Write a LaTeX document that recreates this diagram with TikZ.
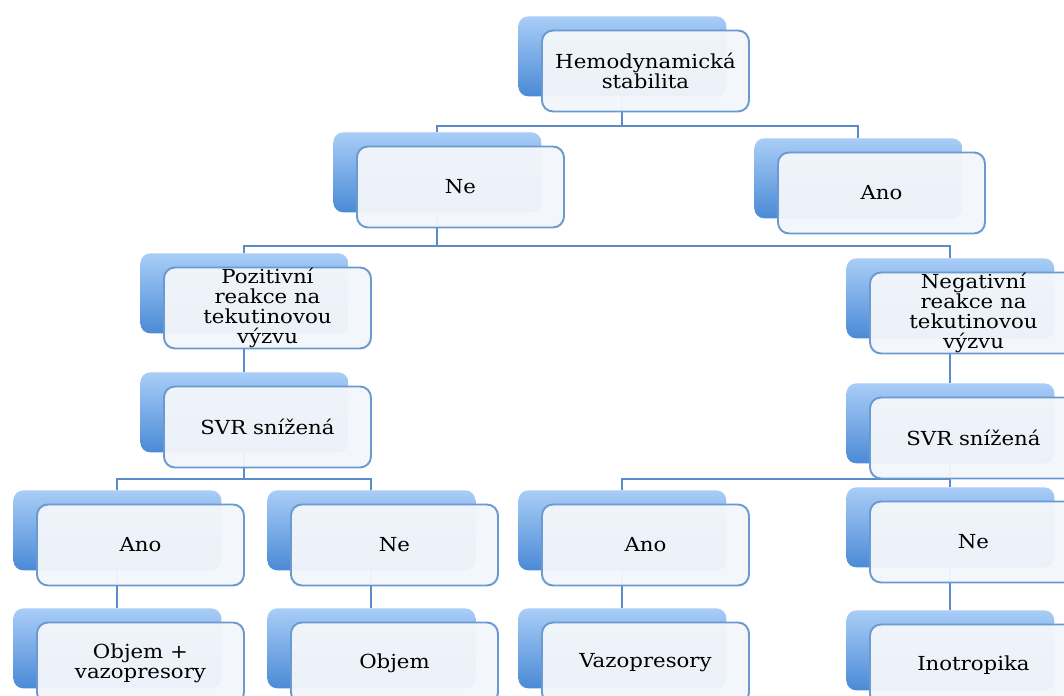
\documentclass[tikz,border=0pt]{standalone}
\usepackage{fontspec}
\setmainfont{DejaVu Serif}[FakeStretch=1.1]
\usepackage{tikz}
\usetikzlibrary{positioning}
\definecolor{modra}{HTML}{4A8AD6}
\definecolor{svetla}{HTML}{A9CDF7}
\definecolor{okraj}{HTML}{6B9AD1}
\definecolor{vypln}{HTML}{F3F6FB}
\definecolor{cara}{HTML}{5B8BC8}
\pgfdeclarelayer{pozadi}
\pgfsetlayers{pozadi,main}

\begin{document}
\begin{tikzpicture}[
  zadni/.style={rounded corners=0.2cm, top color=svetla, bottom color=modra, minimum width=4.16cm, minimum height=1.6cm, inner sep=0pt, anchor=north west},
  predni/.style={rounded corners=0.22cm, draw=okraj, line width=1.1pt, fill=vypln, fill opacity=0.96, text opacity=1, minimum width=4.14cm, minimum height=1.62cm, inner sep=0pt, align=center, anchor=north west, font=\fontsize{11}{11.4}\selectfont, text=black},
  spoj/.style={draw=cara, line width=1.1pt}]
  \useasboundingbox (0,0) rectangle (21.28,-13.9);

  % Bloky (zadni modry + predni bily)
  \foreach \jm/\x/\y/\popis in {
      hemo/10.36/-0.32/{Hemodynamická\\stabilita},
      ne/6.66/-2.64/{Ne},
      ano/15.08/-2.76/{Ano},
      poz/2.80/-5.06/{Pozitivní\\reakce na\\tekutinovou\\výzvu},
      neg/16.92/-5.16/{Negativní\\reakce na\\tekutinovou\\výzvu},
      svrl/2.80/-7.44/{SVR snížená},
      svrr/16.92/-7.66/{SVR snížená},
      anol/0.26/-9.80/{Ano},
      nel/5.34/-9.80/{Ne},
      anor/10.36/-9.80/{Ano},
      ner/16.92/-9.74/{Ne},
      objv/0.26/-12.16/{Objem +\\vazopresory},
      obj/5.34/-12.16/{Objem},
      vaz/10.36/-12.16/{Vazopresory},
      ino/16.92/-12.20/{Inotropika}} {
    \node[zadni] (\jm-z) at (\x,\y) {};
    \node[predni] (\jm) at ([shift={(0.46,-0.27)}]\jm-z.north west) {\popis};
  }

  % Spojnice
  \begin{pgfonlayer}{pozadi}
    \draw[spoj] (hemo-z.south) -- ++(0,-0.58) -| (ne-z.north);
    \draw[spoj] (hemo-z.south) -- ++(0,-0.58) -| (ano-z.north);
    \draw[spoj] (ne-z.south) -- ++(0,-0.66) -| (poz-z.north);
    \draw[spoj] (ne-z.south) -- ++(0,-0.66) -| (neg-z.north);
    \draw[spoj] (svrl-z.south) -- ++(0,-0.52) -| (anol-z.north);
    \draw[spoj] (svrl-z.south) -- ++(0,-0.52) -| (nel-z.north);
    \draw[spoj] (svrr-z.south) -- ++(0,-0.30) -| (anor-z.north);
    \draw[spoj] (svrr-z.south) -- ++(0,-0.30) -| (ner-z.north);
    \foreach \a/\b in {poz/svrl, neg/svrr, anol/objv, nel/obj, anor/vaz, ner/ino}
      \draw[spoj] (\a-z.south) -- (\b-z.north);
  \end{pgfonlayer}
\end{tikzpicture}
\end{document}
